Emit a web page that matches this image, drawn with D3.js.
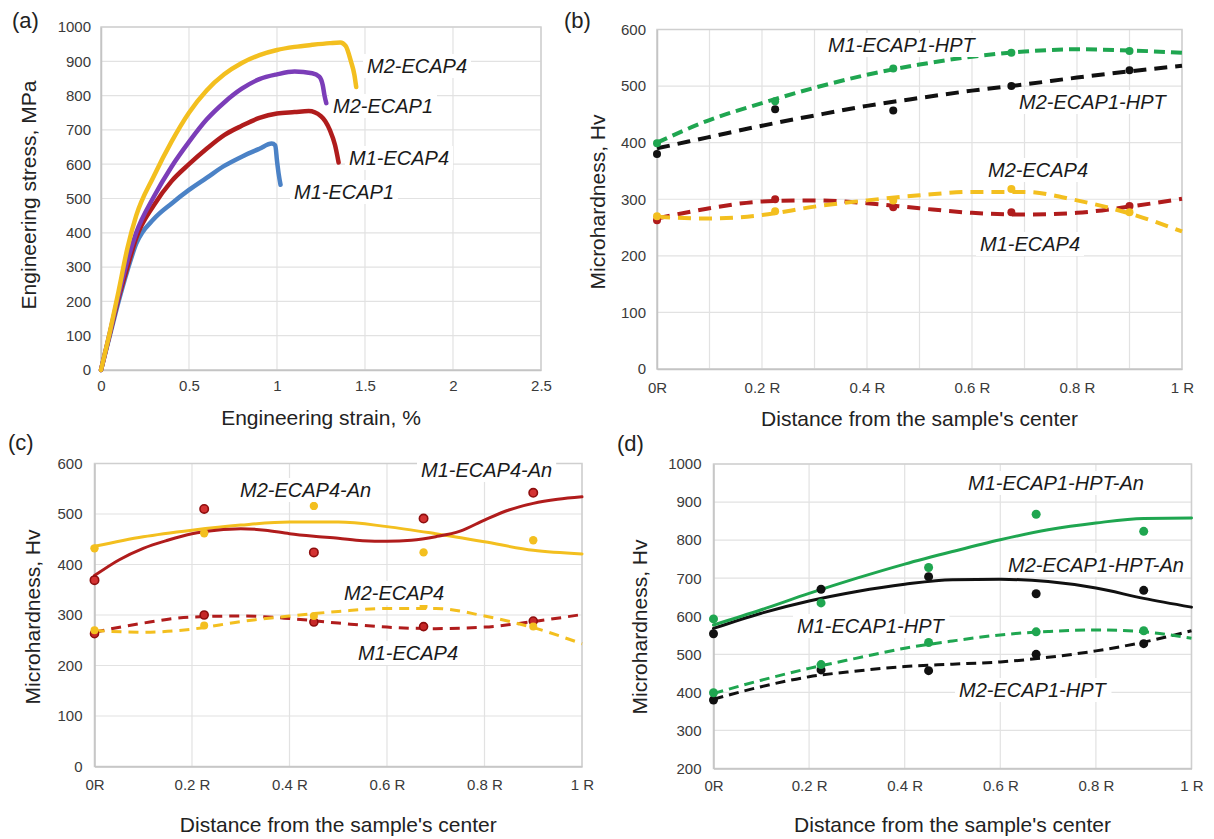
<!DOCTYPE html>
<html><head><meta charset="utf-8">
<script src="https://cdn.jsdelivr.net/npm/d3@7"></script>
<style>
html,body{margin:0;padding:0;background:#fff;}
svg{display:block;font-family:"Liberation Sans",Arial,sans-serif;}
</style></head>
<body>
<svg id="chart" width="1214" height="839"></svg>
<script>
// ---------------- DATA ----------------
// Panel (a): engineering stress-strain curves [strain %, stress MPa]
const curveM2ECAP4 = [[0,0],[0.05,110],[0.1,230],[0.15,355],[0.2,450],[0.3,565],[0.4,665],[0.5,750],[0.6,815],[0.7,862],[0.8,895],[0.9,918],[1.0,933],[1.1,942],[1.2,948],[1.3,953],[1.36,955],[1.39,945],[1.42,900],[1.44,860],[1.45,825]];
const curveM2ECAP1 = [[0,0],[0.05,108],[0.1,218],[0.15,318],[0.2,400],[0.3,505],[0.4,592],[0.5,665],[0.6,730],[0.7,780],[0.8,820],[0.9,848],[1.0,862],[1.1,870],[1.2,865],[1.24,855],[1.26,830],[1.27,800],[1.28,778]];
const curveM1ECAP4 = [[0,0],[0.05,105],[0.1,210],[0.15,300],[0.2,385],[0.3,480],[0.4,550],[0.5,600],[0.6,645],[0.7,685],[0.8,712],[0.9,735],[1.0,748],[1.1,752],[1.18,755],[1.25,740],[1.3,700],[1.33,655],[1.35,605]];
const curveM1ECAP1 = [[0,0],[0.05,100],[0.1,200],[0.15,290],[0.2,368],[0.3,440],[0.4,485],[0.5,525],[0.6,560],[0.7,595],[0.8,622],[0.9,645],[0.97,660],[0.99,655],[1.0,610],[1.01,570],[1.02,540]];
const strainTicks = [0,0.5,1,1.5,2,2.5];
const strainTickLabels = ["0","0.5","1","1.5","2","2.5"];
const stressTicks = [0,100,200,300,400,500,600,700,800,900,1000];

// Panels (b)-(d): microhardness vs distance from centre (fraction of R)
const distPoints = [0, 0.225, 0.45, 0.675, 0.9];
const trendX = [0,0.1,0.2,0.3,0.4,0.5,0.6,0.7,0.8,0.9,1.0];
const trendXFine = [0,0.05,0.1,0.15,0.2,0.25,0.3,0.35,0.4,0.45,0.5,0.55,0.6,0.65,0.7,0.75,0.8,0.85,0.9,0.95,1.0];
const distTicks = [0,0.2,0.4,0.6,0.8,1];
const distTickLabels = ["0R","0.2 R","0.4 R","0.6 R","0.8 R","1 R"];
const distGridB = [0,0.1,0.2,0.3,0.4,0.5,0.6,0.7,0.8,0.9,1];
const hvTicks600 = [0,100,200,300,400,500,600];
const hvTicks1000 = [200,300,400,500,600,700,800,900,1000];

// measured points
const hvM1E1HPT = [399, 473, 531, 559, 562];
const hvM2E1HPT = [380, 459, 457, 500, 528];
const hvM2E4 = [270, 279, 298, 318, 277];
const hvM1E4 = [263, 300, 286, 277, 288];
const hvM1E4An = [369, 510, 424, 491, 542];
const hvM2E4An = [432, 462, 516, 424, 448];
const hvM1E1HPTAn = [593, 635, 728, 868, 823];
const hvM2E1HPTAn = [554, 671, 704, 659, 668];

// trend lines (read at trendX / trendXFine)
const trendM1E1HPT_b = [400, 440, 470, 497, 520, 538, 552, 561, 565, 563, 559];
const trendM2E1HPT_b = [390, 410, 430, 448, 465, 479, 492, 503, 515, 526, 536];
const trendM2E4 = [269, 266, 272, 287, 298, 307, 313, 313, 298, 275, 243];
const trendM1E4 = [266, 284, 296, 298, 293, 284, 276, 273, 276, 287, 301];
const trendM1E4An = [378, 409, 432, 448, 461, 468, 471, 468, 461, 456, 452, 447, 446, 448, 455, 466, 488, 508, 521, 529, 534];
const trendM2E4An = [436, 455, 468, 478, 484, 484, 475, 461, 445, 428, 421];
const trendM1E1HPTAn = [577, 617, 660, 700, 737, 770, 801, 827, 845, 857, 858];
const trendM2E1HPTAn = [568, 608, 640, 665, 684, 696, 697, 691, 674, 647, 624];
const trendM1E1HPT_d = [397, 432, 463, 490, 516, 535, 551, 560, 564, 559, 542];
const trendM2E1HPT_d = [382, 415, 441, 456, 468, 474, 480, 492, 509, 532, 562];

// ---------------- DRAWING ----------------
const C = {yellow:"#f3bf1f", purple:"#7b3db8", red:"#b01c1c", blue:"#4b82c6", green:"#1fa650", black:"#111111"};
const svg = d3.select("#chart");

function panel(o){
  const g = svg.append("g");
  const x = d3.scaleLinear().domain(o.xd).range(o.xr);
  const y = d3.scaleLinear().domain(o.yd).range(o.yr);
  // gridlines
  g.append("g").selectAll("line.h").data(o.yticks).join("line")
    .attr("x1",o.xr[0]).attr("x2",o.xr[1]).attr("y1",d=>y(d)).attr("y2",d=>y(d))
    .attr("stroke","#e2e2e2").attr("stroke-width",1.2);
  g.append("g").selectAll("line.v").data(o.xgrid).join("line")
    .attr("y1",o.yr[0]).attr("y2",o.yr[1]).attr("x1",d=>x(d)).attr("x2",d=>x(d))
    .attr("stroke","#e2e2e2").attr("stroke-width",1.2);
  g.append("rect").attr("x",o.xr[0]).attr("y",o.yr[1]).attr("width",o.xr[1]-o.xr[0]).attr("height",o.yr[0]-o.yr[1])
    .attr("fill","none").attr("stroke","#cfcfcf").attr("stroke-width",1.5);
  // axes
  const ax = g.append("g").attr("transform",`translate(0,${o.yr[0]})`)
    .call(d3.axisBottom(x).tickValues(o.xticks).tickFormat((d,i)=>o.xlabels[i]).tickSize(0).tickPadding(o.xpad));
  const ay = g.append("g").attr("transform",`translate(${o.xr[0]},0)`)
    .call(d3.axisLeft(y).tickValues(o.yticks).tickFormat(d3.format("d")).tickSize(0).tickPadding(o.ypad));
  [ax,ay].forEach(a=>{
    a.select(".domain").attr("stroke","#c4c4c4").attr("stroke-width",1.5);
    a.selectAll("text").attr("font-size",15).attr("fill","#3a3a3a").attr("font-family","'Liberation Sans',Arial,sans-serif");
  });
  // titles
  svg.append("text").attr("x",(o.xr[0]+o.xr[1])/2).attr("y",o.xtY).attr("text-anchor","middle")
    .attr("font-size",21).attr("fill","#222").text(o.xtitle);
  svg.append("text").attr("transform",`translate(${o.ytX},${o.ytC}) rotate(-90)`).attr("text-anchor","middle")
    .attr("font-size",21).attr("fill","#222").text(o.ytitle);
  svg.append("text").attr("x",o.tagX).attr("y",o.tagY).attr("font-size",22).attr("fill","#222").text(o.tag);
  return {g,x,y};
}

function line(p, pts, color, w, dash, curve){
  p.g.append("path").datum(pts)
    .attr("d", d3.line().x(d=>p.x(d[0])).y(d=>p.y(d[1])).curve(curve||d3.curveMonotoneX))
    .attr("fill","none").attr("stroke",color).attr("stroke-width",w)
    .attr("stroke-linecap", dash ? "butt" : "round").attr("stroke-linejoin","round")
    .attr("stroke-dasharray", dash||null);
}
function dots(p, xs, vals, fill, r, stroke){
  p.g.append("g").selectAll("circle").data(vals).join("circle")
    .attr("cx",(d,i)=>p.x(xs[i])).attr("cy",d=>p.y(d)).attr("r",r)
    .attr("fill",fill).attr("stroke",stroke||"none").attr("stroke-width",stroke?1.6:0);
}
function label(x0, yb, txt){
  const t = svg.append("text").attr("x",x0).attr("y",yb).attr("font-size",20).attr("font-style","italic")
    .attr("fill","#1a1a1a").text(txt);
  const b = t.node().getBBox();
  svg.insert("rect", function(){return t.node();}).attr("x",b.x-4).attr("y",b.y-1).attr("width",b.width+8).attr("height",b.height+2).attr("fill","#fff");
}
const zip = (xs, ys) => xs.map((v,i)=>[v, ys[i]]);

// (a)
const pa = panel({xd:[0,2.5], xr:[101,541], yd:[0,1000], yr:[370,27], xticks:strainTicks, xlabels:strainTickLabels,
  xgrid:strainTicks, yticks:stressTicks, xpad:10, ypad:10, xtitle:"Engineering strain, %", xtY:425,
  ytitle:"Engineering stress, MPa", ytX:36, ytC:195, tag:"(a)", tagX:12, tagY:28});
line(pa, curveM1ECAP1, C.blue, 4.5);
line(pa, curveM1ECAP4, C.red, 4.5);
line(pa, curveM2ECAP1, C.purple, 4.5);
line(pa, curveM2ECAP4, C.yellow, 4.5);
label(367,73,"M2-ECAP4"); label(333,113,"M2-ECAP1"); label(349,165,"M1-ECAP4"); label(294,199,"M1-ECAP1");

// (b)
const pb = panel({xd:[0,1], xr:[657,1182], yd:[0,600], yr:[369,29.5], xticks:distTicks, xlabels:distTickLabels,
  xgrid:distGridB, yticks:hvTicks600, xpad:13, ypad:11, xtitle:"Distance from the sample's center", xtY:426,
  ytitle:"Microhardness, Hv", ytX:605, ytC:202, tag:"(b)", tagX:564, tagY:28});
line(pb, zip(trendX,trendM2E1HPT_b), C.black, 4, "13,8");
line(pb, zip(trendX,trendM1E1HPT_b), C.green, 4, "11,6");
line(pb, zip(trendX,trendM1E4), C.red, 4, "13,8");
line(pb, zip(trendX,trendM2E4), C.yellow, 4, "13,8");
dots(pb, distPoints, hvM2E1HPT, C.black, 4);
dots(pb, distPoints, hvM1E1HPT, C.green, 4);
dots(pb, distPoints, hvM1E4, C.red, 4);
dots(pb, distPoints, hvM2E4, C.yellow, 4);
label(828,52,"M1-ECAP1-HPT"); label(1019,109,"M2-ECAP1-HPT"); label(988,177,"M2-ECAP4"); label(980,251,"M1-ECAP4");

// (c)
const pc = panel({xd:[0,1], xr:[94.5,582], yd:[0,600], yr:[766.5,463.5], xticks:distTicks, xlabels:distTickLabels,
  xgrid:distTicks, yticks:hvTicks600, xpad:13, ypad:12, xtitle:"Distance from the sample's center", xtY:832,
  ytitle:"Microhardness, Hv", ytX:40, ytC:617, tag:"(c)", tagX:8, tagY:450});
line(pc, zip(trendX,trendM1E4), C.red, 3, "10,7");
line(pc, zip(trendX,trendM2E4), C.yellow, 3, "10,7");
line(pc, zip(trendX,trendM2E4An), C.yellow, 3);
line(pc, zip(trendXFine,trendM1E4An), C.red, 3);
dots(pc, distPoints, hvM1E4, "#c62828", 4, "#8e0e0e");
dots(pc, distPoints, hvM2E4, C.yellow, 4);
dots(pc, distPoints, hvM2E4An, C.yellow, 4.2);
dots(pc, distPoints, hvM1E4An, "#d43333", 4.2, "#8e0e0e");
label(421,477,"M1-ECAP4-An"); label(240,497,"M2-ECAP4-An"); label(344,600,"M2-ECAP4"); label(358,660,"M1-ECAP4");

// (d)
const pd = panel({xd:[0,1], xr:[713.5,1191.5], yd:[200,1000], yr:[768.5,464], xticks:distTicks, xlabels:distTickLabels,
  xgrid:distTicks, yticks:hvTicks1000, xpad:12, ypad:12, xtitle:"Distance from the sample's center", xtY:832,
  ytitle:"Microhardness, Hv", ytX:647, ytC:627, tag:"(d)", tagX:617, tagY:451});
line(pd, zip(trendX,trendM2E1HPT_d), C.black, 3, "10,6");
line(pd, zip(trendX,trendM1E1HPT_d), C.green, 3, "10,6");
line(pd, zip(trendX,trendM2E1HPTAn), C.black, 3);
line(pd, zip(trendX,trendM1E1HPTAn), C.green, 3);
dots(pd, distPoints, hvM2E1HPT, C.black, 4.5);
dots(pd, distPoints, hvM1E1HPT, C.green, 4.5);
dots(pd, distPoints, hvM2E1HPTAn, C.black, 4.5);
dots(pd, distPoints, hvM1E1HPTAn, C.green, 4.5);
label(968,490,"M1-ECAP1-HPT-An"); label(1008,572,"M2-ECAP1-HPT-An"); label(797,633,"M1-ECAP1-HPT"); label(959,697,"M2-ECAP1-HPT");
</script>
</body></html>
